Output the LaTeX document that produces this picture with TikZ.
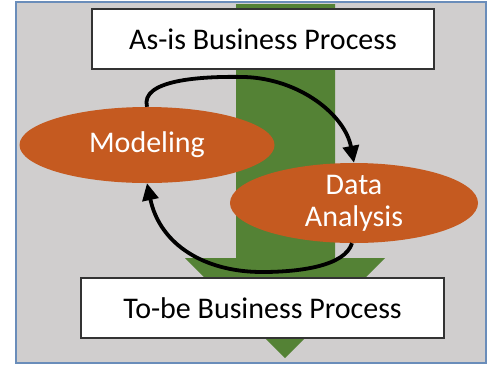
\documentclass[tikz,border=0pt]{standalone}
\usepackage{fontspec}
\setmainfont{Carlito}
\usetikzlibrary{arrows.meta,shapes.geometric}
\definecolor{bggray}{HTML}{D0CECE}
\definecolor{framecol}{HTML}{6A8DBA}
\definecolor{arrowgreen}{HTML}{548235}
\definecolor{oval}{HTML}{C55A20}
\tikzset{
  procbox/.style={draw=black!80, line width=1.8pt, fill=white, minimum height=60pt, font=\fontsize{30}{34}\selectfont, inner sep=0pt},
  stage/.style={ellipse, fill=oval, text=white, font=\fontsize{30}{36}\selectfont, inner sep=0pt, align=center},
  cyc/.style={line width=3.8pt, -{Triangle[length=17pt,width=16pt]}}
}
\begin{document}
\begin{tikzpicture}[x=1pt,y=-1pt]
\useasboundingbox (0,0) rectangle (492,365);
% frame
\draw[framecol, fill=bggray, line width=1.5pt] (16,2) rectangle (486,363);
% green arrow
\fill[arrowgreen] (236,4) -- (335,4) -- (335,258) -- (385,258) -- (285,358) -- (185,258) -- (236,258) -- cycle;
% boxes
\node[procbox, minimum width=342pt] (asis) at (263,39) {As-is Business Process};
\node[procbox, minimum width=363pt] (tobe) at (262.5,308) {To-be Business Process};
% ellipses
\node[stage, minimum width=255pt, minimum height=76pt] (model) at (147,145) {Modeling};
\node[stage, minimum width=248pt, minimum height=80pt] (data) at (354,203) {Data\\[-4pt]Analysis};
% cycle arrows
\draw[cyc] (model.north) .. controls (140,80) and (200,76) .. (245,77) .. controls (300,79) and (345,115) .. (data.north);
\draw[cyc] (data.south) ++(-2,0) coordinate (ds)
  (ds) .. controls (345,266) and (300,272) .. (262,272) .. controls (205,272) and (160,245) .. (model.south);
\end{tikzpicture}
\end{document}
